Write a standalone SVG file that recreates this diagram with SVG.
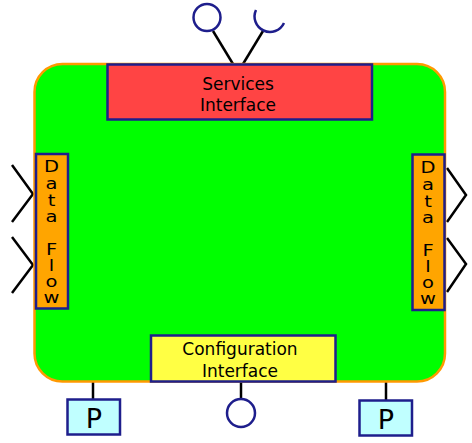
<svg xmlns="http://www.w3.org/2000/svg" width="472" height="443" viewBox="0 0 472 443">
<style>
.lbl{font-family:"DejaVu Sans","Liberation Sans",sans-serif;fill:#000;text-anchor:middle}
.box{stroke:#1e1e8c;stroke-width:2.5}
.wire{stroke:#000;stroke-width:2.5;fill:none}
.port{stroke:#1e1e8c;stroke-width:2.5;fill:#fff}
</style>
<rect width="472" height="443" fill="#fff"/>
<g id="connectors">
<line class="wire" x1="213" y1="31" x2="233" y2="64"/>
<line class="wire" x1="263" y1="31" x2="243" y2="64"/>
<polyline class="wire" points="12,165 33,194 12,222"/>
<polyline class="wire" points="12,237 33,265 12,293"/>
<polyline class="wire" points="447,168 466,195 447,222"/>
<polyline class="wire" points="447,238 466,264 447,292"/>
<line class="wire" x1="241" y1="382" x2="241" y2="399"/>
<line class="wire" x1="93" y1="382" x2="93" y2="399"/>
<line class="wire" x1="386" y1="382" x2="386" y2="400"/>
</g>
<g id="component">
<rect x="34.5" y="64" width="410.5" height="317.5" rx="28" ry="28" fill="#00ff00" stroke="#ff9900" stroke-width="2.5"/>
</g>
<g id="services">
<rect class="box" x="107.5" y="64.5" width="264.5" height="55" fill="#ff4444"/>
<text class="lbl" x="238" y="90" font-size="17">Services</text>
<text class="lbl" x="238" y="111" font-size="17">Interface</text>
</g>
<g id="port-provided">
<circle class="port" cx="207" cy="17.5" r="13.5" fill="none"/>
</g>
<g id="port-required">
<path class="port" fill="none" d="M256,10 A14,14 0 1,0 284,23"/>
</g>
<g id="dataflow-left">
<rect class="box" x="36" y="154" width="32" height="154.5" fill="#ffa500"/>
<g class="lbl" font-size="15" transform="matrix(1.3,0,0,1,51.5,0)">
<text x="0" y="172">D</text>
<text x="0" y="189">a</text>
<text x="0" y="206">t</text>
<text x="0" y="222">a</text>
<text x="0" y="255">F</text>
<text x="0" y="271">l</text>
<text x="0" y="287">o</text>
<text x="0" y="303">w</text>
</g>
</g>
<g id="dataflow-right">
<rect class="box" x="412.5" y="154.5" width="32" height="155.5" fill="#ffa500"/>
<g class="lbl" font-size="15" transform="matrix(1.3,0,0,1,428,0)">
<text x="0" y="173">D</text>
<text x="0" y="190">a</text>
<text x="0" y="207">t</text>
<text x="0" y="223">a</text>
<text x="0" y="256">F</text>
<text x="0" y="272">l</text>
<text x="0" y="288">o</text>
<text x="0" y="304">w</text>
</g>
</g>
<g id="configuration">
<rect class="box" x="151" y="335.5" width="184.5" height="46" fill="#ffff44"/>
<text class="lbl" x="240" y="355" font-size="17">Configuration</text>
<text class="lbl" x="240" y="377" font-size="17">Interface</text>
</g>
<g id="port-config">
<circle class="port" cx="241" cy="413" r="14"/>
</g>
<g id="p-left">
<rect class="box" x="67.5" y="399.5" width="52.5" height="35" fill="#c0ffff"/>
<text class="lbl" x="94" y="428" font-size="27">P</text>
</g>
<g id="p-right">
<rect class="box" x="359.5" y="400.5" width="52.5" height="35" fill="#c0ffff"/>
<text class="lbl" x="386" y="429" font-size="27">P</text>
</g>
</svg>
